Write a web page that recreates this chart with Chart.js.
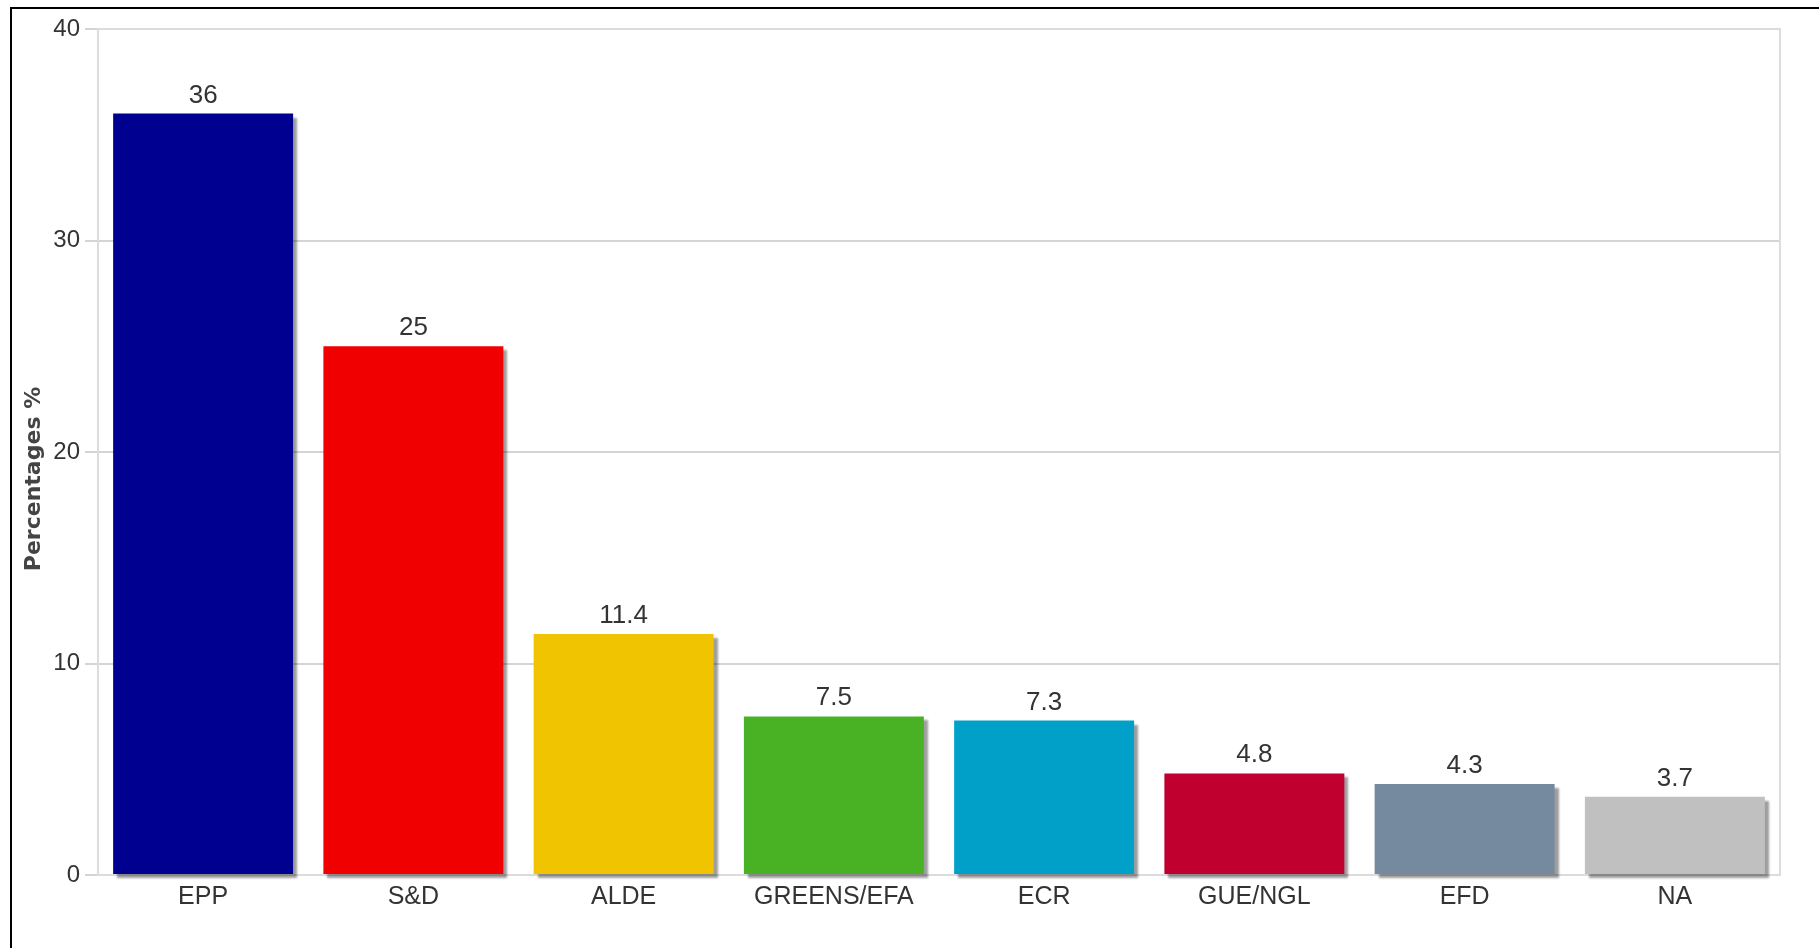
<!DOCTYPE html>
<html>
<head>
<meta charset="utf-8">
<script src="https://cdn.jsdelivr.net/npm/chart.js@4/dist/chart.umd.min.js"></script>
<style>
  html, body { margin: 0; padding: 0; background: #fff; overflow: hidden; }
  #frame { position: absolute; left: 10px; top: 7px; width: 1900px; height: 1000px;
           border: 2px solid #000; box-sizing: border-box; }
  #chart { position: absolute; left: 0; top: 0; }
</style>
</head>
<body>
<div id="frame"></div>
<canvas id="chart" width="1819" height="948"></canvas>
<script>
// European Parliament groups, share of seats (%)
const groups  = ["EPP", "S&D", "ALDE", "GREENS/EFA", "ECR", "GUE/NGL", "EFD", "NA"];
const shares  = [36, 25, 11.4, 7.5, 7.3, 4.8, 4.3, 3.7];
const colours = ["#000090", "#f00000", "#f0c400", "#48b224", "#00a0c8", "#c0002f", "#758a9f", "#c0c0c0"];
const yTicks  = [0, 10, 20, 30, 40];
const yTitle  = "Percentages %";

const FONT = "'Liberation Sans', Arial, sans-serif";

// JFreeChart-style drop shadow under each bar
const barShadow = {
  id: "barShadow",
  beforeDatasetDraw(chart) {
    const ctx = chart.ctx;
    ctx.save();
    ctx.shadowColor = "rgba(0,0,0,0.38)";
    ctx.shadowOffsetX = 4;
    ctx.shadowOffsetY = 4;
    ctx.shadowBlur = 2;
  },
  afterDatasetDraw(chart) {
    chart.ctx.restore();
  }
};

// light frame round the plot, axis title (centred on whole chart height) and value labels
const plotExtras = {
  id: "plotExtras",
  beforeDatasetsDraw(chart) {
    const { ctx, chartArea: a } = chart;
    ctx.save();
    ctx.strokeStyle = "#dcdcdc";
    ctx.lineWidth = 2;
    ctx.strokeRect(a.left, a.top, a.right - a.left, a.bottom - a.top);

    ctx.translate(34, chart.height / 2 + 5);
    ctx.rotate(-Math.PI / 2);
    ctx.font = "bold 22px 'DejaVu Sans', sans-serif";
    ctx.fillStyle = "#444";
    ctx.textAlign = "center";
    ctx.textBaseline = "middle";
    ctx.fillText(yTitle, 0, 0);
    ctx.restore();
  },
  afterDatasetsDraw(chart) {
    const ctx = chart.ctx;
    const meta = chart.getDatasetMeta(0);
    ctx.save();
    ctx.font = "26px " + FONT;
    ctx.fillStyle = "#333";
    ctx.textAlign = "center";
    ctx.textBaseline = "alphabetic";
    meta.data.forEach((bar, i) => {
      ctx.fillText(String(shares[i]), bar.x, bar.y - 11);
    });
    ctx.restore();
  }
};

new Chart(document.getElementById("chart").getContext("2d"), {
  type: "bar",
  data: {
    labels: groups,
    datasets: [{
      data: shares,
      backgroundColor: colours,
      borderWidth: 0,
      categoryPercentage: 1,
      barPercentage: 0.856,
      clip: false
    }]
  },
  options: {
    responsive: false,
    animation: false,
    devicePixelRatio: 1,
    layout: { padding: { top: 29, right: 39, left: 0, bottom: 0 } },
    plugins: {
      legend: { display: false },
      tooltip: { enabled: false }
    },
    scales: {
      x: {
        grid: { display: false, drawTicks: false },
        border: { display: false },
        ticks: { color: "#333", font: { family: FONT, size: 25 }, padding: 7, maxRotation: 0 },
        afterFit: s => { s.height = 73; }
      },
      y: {
        min: 0,
        max: 40,
        afterBuildTicks: s => { s.ticks = yTicks.map(v => ({ value: v })); },
        grid: { color: "#d4d4d4", lineWidth: 2, tickLength: 13 },
        border: { display: false },
        ticks: { color: "#333", font: { family: FONT, size: 24 }, padding: 5 },
        afterFit: s => { s.width = 98; }
      }
    }
  },
  plugins: [barShadow, plotExtras]
});
</script>
</body>
</html>
